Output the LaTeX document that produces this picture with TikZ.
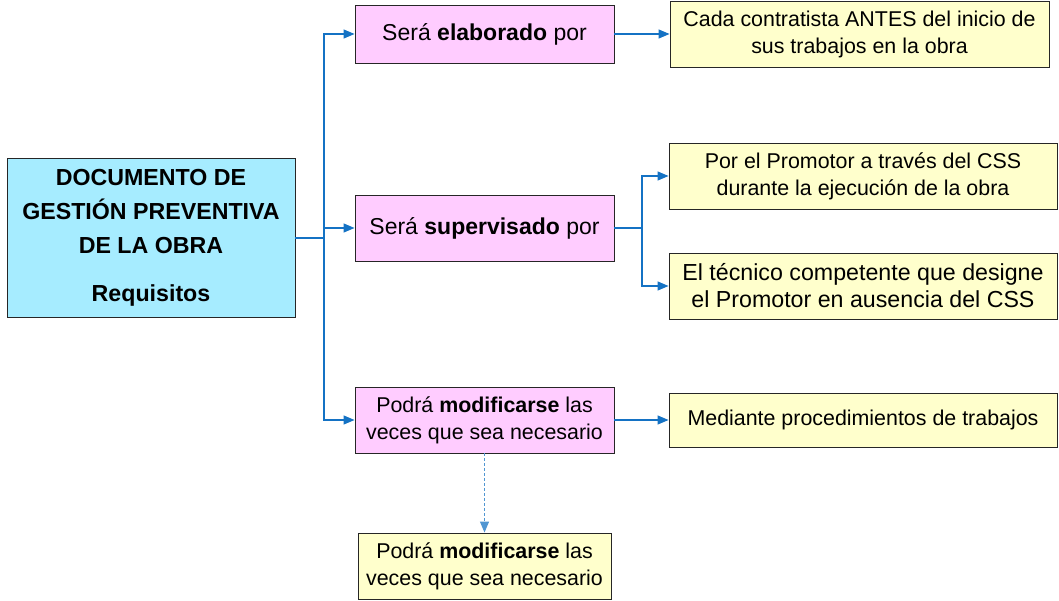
\documentclass[tikz,border=0pt]{standalone}
\usepackage{fontspec}
\setmainfont{Liberation Sans}
\usetikzlibrary{arrows.meta}
\definecolor{cyanbox}{RGB}{166,236,255}
\definecolor{pinkbox}{RGB}{255,204,255}
\definecolor{yellowbox}{RGB}{255,255,204}
\definecolor{linkblue}{RGB}{20,114,196}
\definecolor{dashblue}{RGB}{80,150,210}
\begin{document}
\begin{tikzpicture}[x=1pt,y=-1pt,
  box/.style={draw=black!85,line width=0.9pt,inner sep=2pt,align=center,font=\fontsize{21.4}{27}\selectfont},
  mainbox/.style={box,fill=cyanbox,minimum width=288pt,minimum height=159pt,font=\bfseries\fontsize{23.2}{34}\selectfont},
  pinkb/.style={box,fill=pinkbox,minimum width=259pt,minimum height=66pt},
  yellowb/.style={box,fill=yellowbox,minimum width=388pt,minimum height=66pt},
  link/.style={draw=linkblue,line width=1.2pt,-{Triangle[length=11pt,width=9pt]}},
  plainlink/.style={draw=linkblue,line width=1.2pt},
  dlink/.style={draw=dashblue,line width=1.1pt,dash pattern=on 3pt off 2pt,-{Triangle[length=11pt,width=9pt]}}]
\useasboundingbox (0,0) rectangle (1059,601);
\node[mainbox] (main) at (151,237.5) {DOCUMENTO DE\\GESTIÓN PREVENTIVA\\DE LA OBRA\\[14pt]Requisitos};
\node[pinkb,minimum height=58pt,font=\fontsize{23}{27}\selectfont] (p1) at (484.5,34) {Será \textbf{elaborado} por};
\node[yellowb,minimum width=379pt] (y1) at (859.5,34) {Cada contratista ANTES del inicio de\\sus trabajos en la obra};
\node[pinkb,font=\fontsize{23}{27}\selectfont] (p2) at (484.5,228) {Será \textbf{supervisado} por};
\node[yellowb] (y2) at (863,176) {Por el Promotor a través del CSS\\durante la ejecución de la obra};
\node[yellowb,font=\fontsize{23.2}{27}\selectfont] (y3) at (863,286) {El técnico competente que designe\\el Promotor en ausencia del CSS};
\node[pinkb] (p3) at (484.5,420) {Podrá \textbf{modificarse} las\\veces que sea necesario};
\node[yellowb,minimum height=54pt] (y4) at (863,420) {Mediante procedimientos de trabajos};
\node[yellowb,minimum width=253pt] (y5) at (484.5,566) {Podrá \textbf{modificarse} las\\veces que sea necesario};
\coordinate (trunk) at (324,238);
\coordinate (split) at (642,228);
\draw[plainlink] (main.east |- trunk) -- (trunk);
\draw[link] (trunk) |- (p1.west);
\draw[link] (trunk) |- (p2.west);
\draw[link] (trunk) |- (p3.west);
\draw[link] (p1.east) -- (y1.west |- p1.east);
\draw[plainlink] (p2.east) -- (split);
\draw[link] (split) |- (y2.west);
\draw[link] (split) |- (y3.west);
\draw[link] (p3.east) -- (y4.west);
\draw[dlink] (p3.south) -- (y5.north);
\end{tikzpicture}
\end{document}
